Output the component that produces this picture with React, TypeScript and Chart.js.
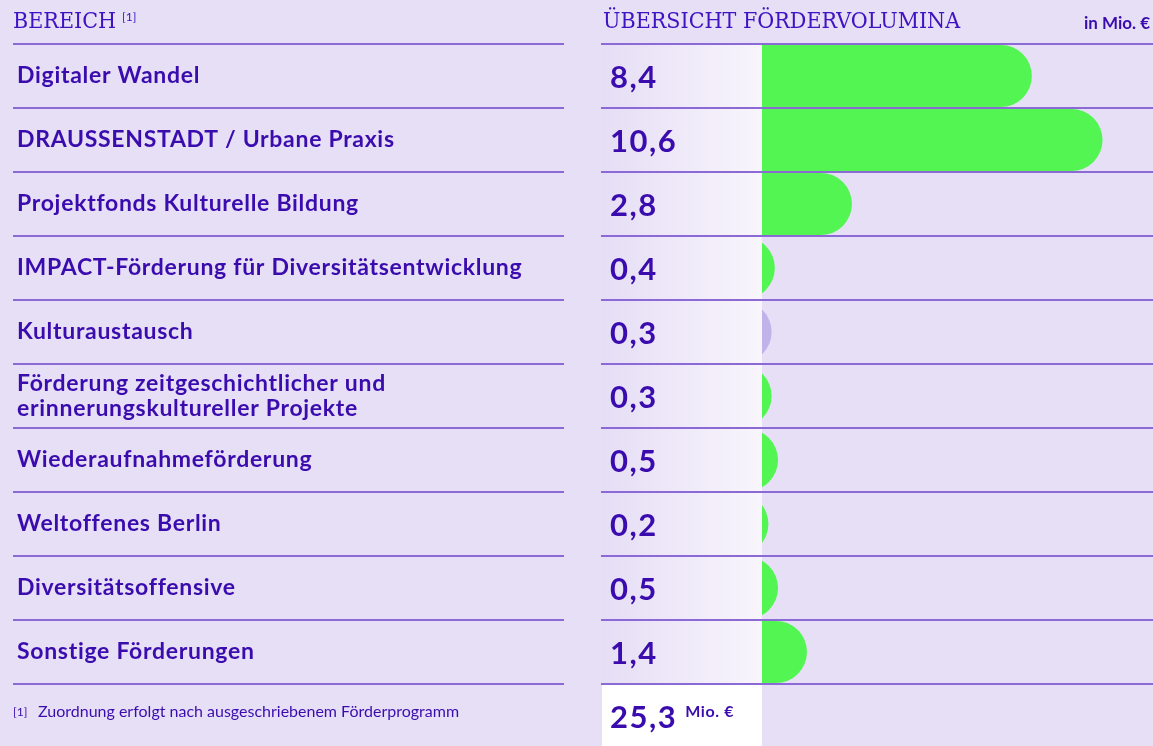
import React, { useEffect, useRef } from "react";
import { Chart, registerables } from "chart.js";

Chart.register(...registerables);

// ---------- data ----------
const CATEGORIES: (string | string[])[] = [
  "Digitaler Wandel",
  "DRAUSSENSTADT / Urbane Praxis",
  "Projektfonds Kulturelle Bildung",
  "IMPACT-Förderung für Diversitätsentwicklung",
  "Kulturaustausch",
  ["Förderung zeitgeschichtlicher und", "erinnerungskultureller Projekte"],
  "Wiederaufnahmeförderung",
  "Weltoffenes Berlin",
  "Diversitätsoffensive",
  "Sonstige Förderungen",
];
const VALUES = [8.4, 10.6, 2.8, 0.4, 0.3, 0.3, 0.5, 0.2, 0.5, 1.4];
const HIGHLIGHTED = [true, true, true, true, false, true, true, true, true, true];
const TOTAL = 25.3;

const HEADER_LEFT = "BEREICH";
const FOOTNOTE_MARK = "[1]";
const HEADER_RIGHT = "ÜBERSICHT FÖRDERVOLUMINA";
const UNIT_LABEL = "in Mio. €";
const TOTAL_UNIT = "Mio. €";
const FOOTNOTE = "Zuordnung erfolgt nach ausgeschriebenem Förderprogramm";

// ---------- styles ----------
const W = 1153;
const H = 746;
const BG = "#e7dff6";
const TEXT = "#3a0cae";
const HEAD_TEXT = "#3f12c2";
const LINE = "#8c6ad6";
const GREEN = "#52f552";
const MUTED = "#c2b2ea";
const SANS = "Lato, 'Noto Sans', sans-serif";
const SERIF = "'DejaVu Serif Condensed', 'DejaVu Serif', serif";

const fmt = (v: number) => v.toLocaleString("de-DE", { minimumFractionDigits: 1, maximumFractionDigits: 1 });

const decorPlugin = {
  id: "decor",
  beforeDraw(chart: any) {
    const { ctx, chartArea } = chart;
    const y = chart.scales.y;
    const n = CATEGORIES.length;
    const step = (chartArea.bottom - chartArea.top) / n;
    ctx.save();
    ctx.fillStyle = BG;
    ctx.fillRect(0, 0, W, H);
    // gradient value column
    for (let i = 0; i < n; i++) {
      const cy = y.getPixelForValue(i);
      const g = ctx.createLinearGradient(602, 0, chartArea.left, 0);
      g.addColorStop(0, "#e6def5");
      g.addColorStop(1, "#f8f5fc");
      ctx.fillStyle = g;
      ctx.fillRect(602, cy - step / 2, chartArea.left - 602, step);
    }
    // total cell
    ctx.fillStyle = "#ffffff";
    ctx.fillRect(602, chartArea.bottom + 1, chartArea.left - 602, H - chartArea.bottom);
    ctx.restore();
    // spacing for the category tick labels
    (ctx as any).letterSpacing = "0.7px";
  },
  afterDatasetsDraw(chart: any) {
    const { ctx, chartArea } = chart;
    const y = chart.scales.y;
    const n = CATEGORIES.length;
    const step = (chartArea.bottom - chartArea.top) / n;
    ctx.save();
    // row lines
    ctx.strokeStyle = LINE;
    ctx.lineWidth = 2;
    for (let k = 0; k <= n; k++) {
      const ly = Math.round(chartArea.top + k * step);
      ctx.beginPath();
      ctx.moveTo(13, ly);
      ctx.lineTo(564, ly);
      ctx.moveTo(601, ly);
      ctx.lineTo(W, ly);
      ctx.stroke();
    }
    // values
    ctx.fillStyle = TEXT;
    ctx.textAlign = "left";
    ctx.textBaseline = "alphabetic";
    ctx.font = `700 31px ${SANS}`;
    (ctx as any).letterSpacing = "1.5px";
    for (let i = 0; i < n; i++) {
      const cy = y.getPixelForValue(i);
      ctx.fillText(fmt(VALUES[i]), 610, cy + 12);
    }
    // total
    const ty = chartArea.bottom + (H - chartArea.bottom) / 2;
    ctx.fillText(fmt(TOTAL), 610, ty + 13);
    const tw = ctx.measureText(fmt(TOTAL)).width;
    ctx.font = `700 16px ${SANS}`;
    (ctx as any).letterSpacing = "0.6px";
    ctx.fillText(TOTAL_UNIT, 610 + tw + 8, ty + 2);

    // headers
    (ctx as any).letterSpacing = "0px";
    ctx.fillStyle = HEAD_TEXT;
    ctx.font = `400 23px ${SERIF}`;
    ctx.fillText(HEADER_LEFT, 13, 28);
    const hw = ctx.measureText(HEADER_LEFT).width;
    ctx.fillText(HEADER_RIGHT, 603, 28);
    ctx.font = `400 12px ${SANS}`;
    ctx.fillText(FOOTNOTE_MARK, 13 + hw + 6, 21);

    ctx.fillStyle = TEXT;
    ctx.font = `700 17px ${SANS}`;
    ctx.textAlign = "right";
    ctx.fillText(UNIT_LABEL, 1150, 29);

    // footnote
    ctx.textAlign = "left";
    ctx.font = `400 12px ${SANS}`;
    ctx.fillText(FOOTNOTE_MARK, 13, 716);
    ctx.font = `400 16px ${SANS}`;
    ctx.fillText(FOOTNOTE, 38, 717);
    ctx.restore();
    (ctx as any).letterSpacing = "0px";
  },
};

export default function App() {
  const ref = useRef<HTMLCanvasElement | null>(null);
  useEffect(() => {
    if (!ref.current) return;
    const chart = new Chart(ref.current, {
      type: "bar",
      data: {
        labels: CATEGORIES as any,
        datasets: [
          {
            data: VALUES.map((v) => [-2, v]) as any,
            backgroundColor: HIGHLIGHTED.map((h) => (h ? GREEN : MUTED)),
            borderRadius: { topLeft: 0, bottomLeft: 0, topRight: 31, bottomRight: 31 },
            borderSkipped: false,
            barPercentage: 1,
            categoryPercentage: 62 / 64,
            clip: 0,
          } as any,
        ],
      },
      options: {
        indexAxis: "y",
        animation: false,
        responsive: false,
        devicePixelRatio: 1,
        layout: { padding: { left: 17, top: 44, bottom: 62, right: 0 } },
        plugins: { legend: { display: false }, tooltip: { enabled: false } },
        scales: {
          x: { display: false, min: 0, max: 12.17 },
          y: {
            position: "left",
            grid: { display: false },
            border: { display: false },
            ticks: {
              crossAlign: "far",
              color: TEXT,
              autoSkip: false,
              padding: 0,
              font: { family: SANS, weight: "700", size: 23, lineHeight: 1.09 },
            },
            afterFit: (s: any) => {
              s.width = 762 - 17;
            },
          },
        },
      } as any,
      plugins: [decorPlugin],
    });
    return () => chart.destroy();
  }, []);
  return (
    <div style={{ position: "fixed", left: 0, top: 0, width: W, height: H, background: BG }}>
      <canvas ref={ref} width={W} height={H} style={{ display: "block", width: W, height: H }} />
    </div>
  );
}
